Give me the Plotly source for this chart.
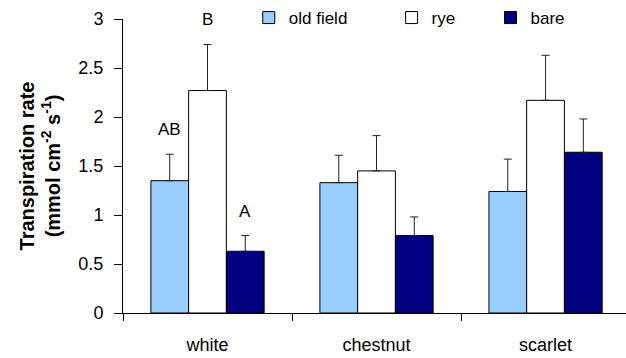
import plotly.graph_objects as go

categories = ["white", "chestnut", "scarlet"]
series_names = ["old field", "rye", "bare"]
old_field = [1.35, 1.33, 1.24]
old_field_err = [0.27, 0.28, 0.33]
rye = [2.27, 1.45, 2.17]
rye_err = [0.47, 0.36, 0.46]
bare = [0.63, 0.79, 1.64]
bare_err = [0.16, 0.19, 0.34]
sig_letters = {"old field": ["AB", "", ""], "rye": ["B", "", ""], "bare": ["A", "", ""]}
y_ticks = [0, 0.5, 1, 1.5, 2, 2.5, 3]
y_tick_labels = ["0", "0.5", "1", "1.5", "2", "2.5", "3"]

colors = {"old field": "#99CCFF", "rye": "#FFFFFF", "bare": "#000080"}
legend_ids = {"old field": "legend", "rye": "legend2", "bare": "legend3"}
legend_x = {"old field": 0.25, "rye": 0.534, "bare": 0.7306}
FONT = "Liberation Sans"
bargap = 0.33

values = {"old field": old_field, "rye": rye, "bare": bare}
errors = {"old field": old_field_err, "rye": rye_err, "bare": bare_err}

fig = go.Figure()
for name in series_names:
    fig.add_trace(go.Bar(
        x=categories, y=values[name], name=name, legend=legend_ids[name],
        marker=dict(color=colors[name], line=dict(color="#000000", width=1)),
        error_y=dict(type="data", array=errors[name], arrayminus=[0] * 3,
                     symmetric=False, color="#222222", thickness=1, width=4),
    ))

# significance letters above error bars
n = len(series_names)
bw = (1 - bargap) / n
for si, name in enumerate(series_names):
    off = (si - (n - 1) / 2) * bw
    for ci, lab in enumerate(sig_letters[name]):
        if lab:
            fig.add_annotation(x=ci + off, y=values[name][ci] + errors[name][ci],
                               xref="x", yref="y", text=lab, showarrow=False,
                               yanchor="bottom", yshift=13,
                               font=dict(family=FONT, size=17, color="#000"))

legend_common = dict(orientation="h", xanchor="left", y=1.065, yanchor="top",
                     font=dict(family=FONT, size=17, color="#000"),
                     bgcolor="rgba(0,0,0,0)", itemclick=False, itemdoubleclick=False)
legends = {}
for name in series_names:
    key = legend_ids[name]
    legends[key] = dict(legend_common, x=legend_x[name])

fig.update_layout(
    width=626, height=358,
    margin=dict(l=123, r=0, t=18, b=45),
    paper_bgcolor="white", plot_bgcolor="white",
    barmode="group", bargap=bargap, bargroupgap=0,
    font=dict(family=FONT, size=17, color="#000"),
    showlegend=True,
    xaxis=dict(type="category", range=[-0.5, 2.476], showline=True, linecolor="#000",
               linewidth=1, ticks="outside", tickson="boundaries", ticklen=7,
               tickcolor="#000", showgrid=False, zeroline=False,
               tickfont=dict(family=FONT, size=18), ticklabelstandoff=15),
    yaxis=dict(range=[0, 3], tickvals=y_ticks, ticktext=y_tick_labels,
               showline=True, linecolor="#000", linewidth=1, ticks="outside",
               ticklen=8, tickcolor="#000", showgrid=False, zeroline=False,
               tickfont=dict(family=FONT, size=18), ticklabelstandoff=7,
               title=dict(text="<b>Transpiration rate</b><br><b>(mmol cm<sup>-2</sup> s<sup>-1</sup>)</b>",
                          font=dict(family=FONT, size=20), standoff=12)),
    **legends,
)

fig.write_html("out.html")
